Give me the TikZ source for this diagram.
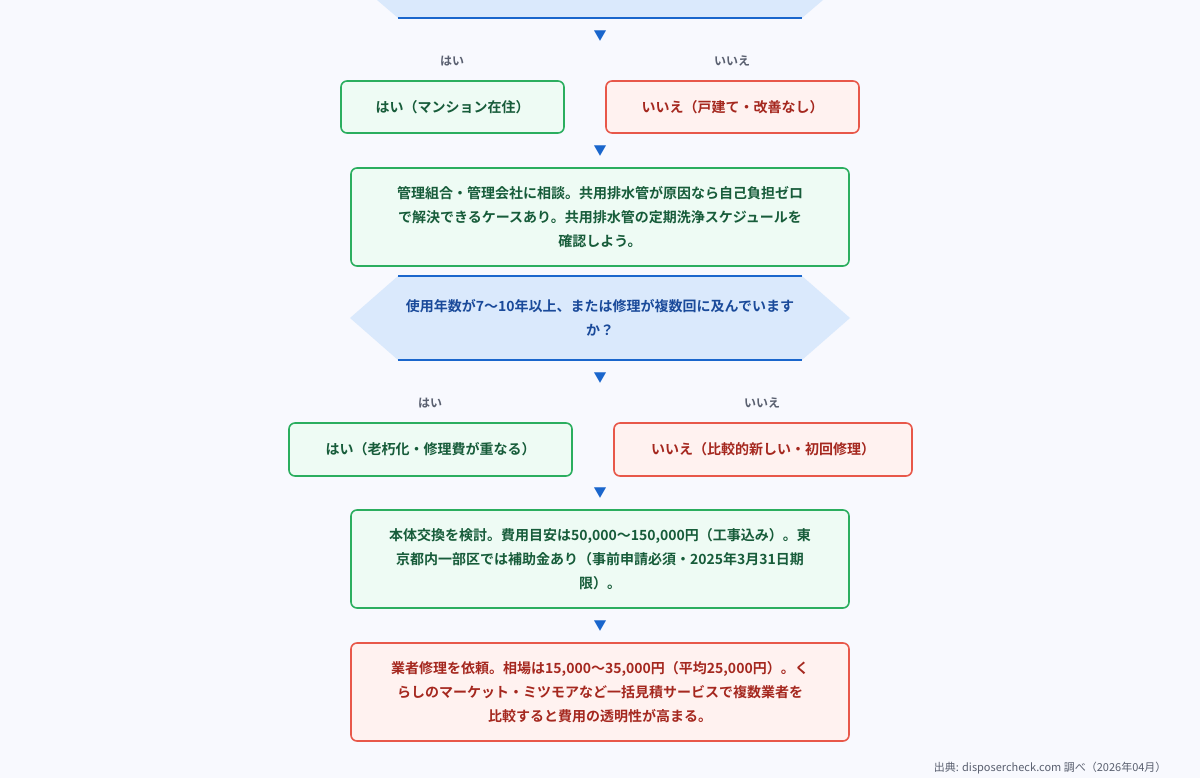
\documentclass[tikz,border=0pt]{standalone}
\usepackage{fontspec}
\setmainfont{Noto Sans CJK JP}
\newfontfamily\jpb{Noto Sans CJK JP Bold}
\definecolor{bg}{HTML}{F8F9FE}
\definecolor{gb}{HTML}{2BAE5F}
\definecolor{gf}{HTML}{EEFBF4}
\definecolor{gt}{HTML}{175C3A}
\definecolor{rb}{HTML}{E8584A}
\definecolor{rf}{HTML}{FFF2F0}
\definecolor{rt}{HTML}{A5281F}
\definecolor{hb}{HTML}{1A66CC}
\definecolor{hf}{HTML}{DAE9FC}
\definecolor{ht}{HTML}{1A4A9A}
\definecolor{lab}{HTML}{5A6070}
\begin{document}
\begin{tikzpicture}[x=1pt,y=-1pt,
  box/.style={rounded corners=6pt,line width=1.6pt},
  gbox/.style={box,draw=gb,fill=gf},
  rbox/.style={box,draw=rb,fill=rf},
  gtxt/.style={text=gt,font=\jpb\fontsize{14}{24}\selectfont,align=center},
  rtxt/.style={text=rt,font=\jpb\fontsize{14}{24}\selectfont,align=center},
  htxt/.style={text=ht,font=\jpb\fontsize{14}{24}\selectfont,align=center},
  lbl/.style={text=lab,font=\jpb\fontsize{12}{14}\selectfont},
  arr/.style={text=hb,font=\fontsize{13}{14}\selectfont}]
\fill[bg] (0,0) rectangle (1200,778);
\useasboundingbox (0,0) rectangle (1200,778);
% top hexagon
\fill[hf] (377,0) -- (398,18) -- (802,18) -- (823,0) -- cycle;
\draw[hb,line width=1.2pt] (398,18) -- (802,18);
\node[arr] (a1) at (600,36) {▼};
\node[lbl] (l1) at (452,61) {はい};
\node[lbl] (l2) at (732,61) {いいえ};
\draw[gbox] (341,81) rectangle (564,133);
\node[gtxt] (y1) at (452.5,107) {はい（マンション在住）};
\draw[rbox] (606,81) rectangle (859,133);
\node[rtxt] (n1) at (732.5,107) {いいえ（戸建て・改善なし）};
\node[arr] (a2) at (600,151) {▼};
\draw[gbox] (351,168) rectangle (849,266);
\node[gtxt] (b3) at (600,217) {管理組合・管理会社に相談。共用排水管が原因なら自己負担ゼロ\\で解決できるケースあり。共用排水管の定期洗浄スケジュールを\\確認しよう。};
% hexagon 2
\fill[hf] (350,318) -- (398,276) -- (802,276) -- (850,318) -- (802,360) -- (398,360) -- cycle;
\draw[hb,line width=1.2pt] (398,276) -- (802,276);
\draw[hb,line width=1.2pt] (398,360) -- (802,360);
\node[htxt] (q2) at (600,318) {使用年数が7〜10年以上、または修理が複数回に及んでいます\\か？};
\node[arr] (a3) at (600,378) {▼};
\node[lbl] (l3) at (430,403) {はい};
\node[lbl] (l4) at (762,403) {いいえ};
\draw[gbox] (289,423) rectangle (572,476);
\node[gtxt] (y2) at (430.5,449.5) {はい（老朽化・修理費が重なる）};
\draw[rbox] (614,423) rectangle (912,476);
\node[rtxt] (n2) at (763,449.5) {いいえ（比較的新しい・初回修理）};
\node[arr] (a4) at (600,493) {▼};
\draw[gbox] (351,510) rectangle (849,608);
\node[gtxt] (b4) at (600,559) {本体交換を検討。費用目安は50,000〜150,000円（工事込み）。東\\京都内一部区では補助金あり（事前申請必須・2025年3月31日期\\限）。};
\node[arr] (a5) at (600,626) {▼};
\draw[rbox] (351,643) rectangle (849,741);
\node[rtxt] (b5) at (600,692) {業者修理を依頼。相場は15,000〜35,000円（平均25,000円）。く\\らしのマーケット・ミツモアなど一括見積サービスで複数業者を\\比較すると費用の透明性が高まる。};
\node[text=lab,font=\fontsize{11}{12}\selectfont,anchor=east] (src) at (1170,768) {出典: disposercheck.com 調べ（2026年04月）};
\end{tikzpicture}
\end{document}
